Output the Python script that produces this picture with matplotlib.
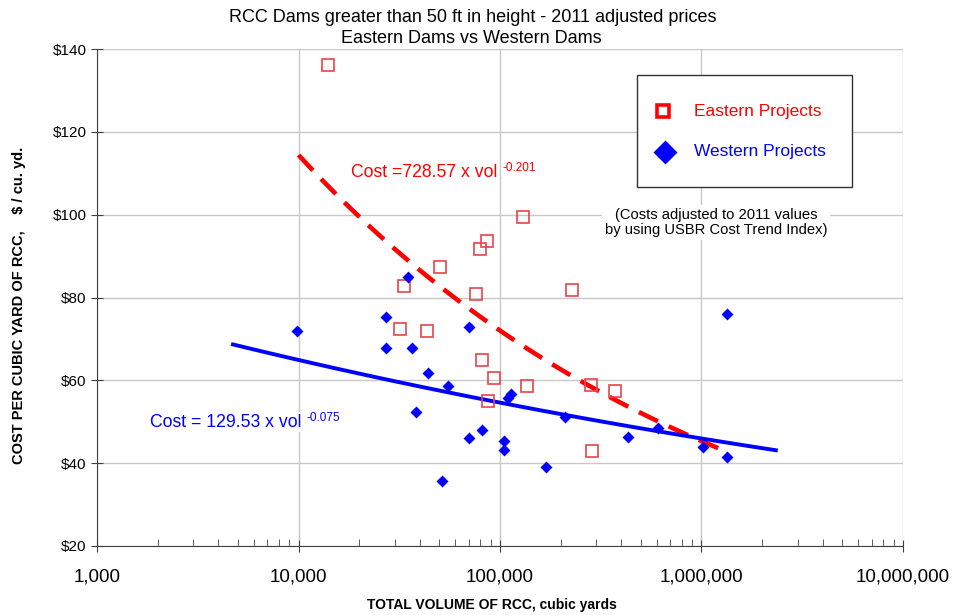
#!/usr/bin/env python3
"""RCC dam unit cost vs. volume, eastern vs western projects"""
import numpy as np
import matplotlib
matplotlib.use("Agg")
import matplotlib.pyplot as plt
from matplotlib.patches import Rectangle
from matplotlib.ticker import FixedLocator, LogLocator, NullFormatter

plt.rcParams['font.family'] = ['Liberation Sans', 'DejaVu Sans']

# eastern projects (volume cu. yd., cost $/cu. yd.)
east_vol = [14000, 130000, 86000, 79600, 50400, 33400, 76000, 228000, 31900,
            43400, 81400, 93400, 136000, 87100, 283000, 372000, 286000]
east_cost = [136.1, 99.4, 93.6, 91.7, 87.4, 82.8, 80.8, 81.8, 72.4,
             71.9, 64.9, 60.6, 58.6, 55.0, 58.9, 57.4, 42.9]

# western projects
west_vol = [9840, 34900, 27200, 27200, 36600, 70200, 43900, 55200, 38300, 113500,
            109600, 70200, 81400, 104700, 104700, 51500, 169000, 210000,
            1340000, 432000, 608000, 1017000, 1340000]
west_cost = [72.0, 84.9, 75.3, 67.8, 67.8, 72.9, 61.8, 58.6, 52.4, 56.7,
             55.7, 46.1, 48.0, 45.3, 43.2, 35.7, 39.1, 51.1,
             76.0, 46.3, 48.5, 43.9, 41.5]

# power-law fits shown on the chart
east_fit = (728.57, -0.201)
east_fit_range = (10000, 1330000)
west_fit = (129.53, -0.075)
west_fit_range = (4730, 2340000)

xticks = [1e3, 1e4, 1e5, 1e6, 1e7]
xtick_labels = ['1,000', '10,000', '100,000', '1,000,000', '10,000,000']
yticks = [20, 40, 60, 80, 100, 120, 140]

RED = '#ff0000'
BLUE = '#0000ff'

fig = plt.figure(figsize=(9.54, 6.15), dpi=100)
ax = fig.add_axes([97 / 954, 1 - 546 / 615, 806 / 954, 497 / 615])

# trend lines
xe = np.logspace(np.log10(east_fit_range[0]), np.log10(east_fit_range[1]), 100)
ax.plot(xe, east_fit[0] * xe ** east_fit[1], color=RED, lw=3.3,
        dashes=(4.6, 2.6), zorder=3)
xw = np.logspace(np.log10(west_fit_range[0]), np.log10(west_fit_range[1]), 100)
ax.plot(xw, west_fit[0] * xw ** west_fit[1], color=BLUE, lw=2.8, zorder=3)

# data points
ax.plot(east_vol, east_cost, 's', ms=9, mfc='none', mec='#e8434a', mew=1.2,
        zorder=4)
ax.plot(west_vol, west_cost, 'D', ms=6.5, color=BLUE, mec='none', zorder=4)

ax.set_xscale('log')
ax.set_xlim(1e3, 1e7)
ax.set_ylim(20, 140)
ax.xaxis.set_major_locator(FixedLocator(xticks))
ax.set_xticklabels(xtick_labels, fontsize=13.5)
ax.xaxis.set_minor_locator(LogLocator(base=10, subs=np.arange(2, 10)))
ax.xaxis.set_minor_formatter(NullFormatter())
ax.set_yticks(yticks)
ax.set_yticklabels(['$%d' % v for v in yticks], fontsize=11)

ax.grid(True, which='major', color='#c8c8c8', lw=1.0, zorder=0)
ax.set_axisbelow(True)
for s in ['top', 'right']:
    ax.spines[s].set_visible(False)
for s in ['left', 'bottom']:
    ax.spines[s].set_color('#404040')
ax.tick_params(axis='x', which='major', direction='inout', length=8, pad=12,
               color='#404040')
ax.tick_params(axis='x', which='minor', direction='in', length=5,
               color='#404040')
ax.tick_params(axis='y', direction='inout', length=8, color='#404040')

ax.set_xlabel('TOTAL VOLUME OF RCC, cubic yards', fontsize=10,
              fontweight='bold', labelpad=5)
ax.xaxis.set_label_coords(0.49, -0.105)
ax.set_ylabel('COST PER CUBIC YARD OF RCC,    $ / cu. yd.', fontsize=10.5,
              fontweight='bold', labelpad=20)
ax.yaxis.set_label_coords(-0.088, 0.485)

fig.text(0.496, 0.972, 'RCC Dams greater than 50 ft in height - 2011 adjusted prices',
         ha='center', va='center', fontsize=13)
fig.text(0.494, 0.938, 'Eastern Dams vs Western Dams', ha='center', va='center',
         fontsize=13)

# fit equations, with exponent as a small raised label
def equation(x, y, text, power, color):
    t = ax.text(x, y, text, color=color, fontsize=12.7, ha='left', va='center',
                zorder=5, bbox=dict(fc='white', ec='none', pad=1))
    ax.annotate(power, xy=(1, 1), xycoords=t, xytext=(4, 1),
                textcoords='offset points', color=color, fontsize=8.5,
                ha='left', va='top', zorder=5,
                bbox=dict(fc='white', ec='none', pad=1))

equation(18200, 110.3, 'Cost =728.57 x vol', '-0.201', RED)
equation(1830, 49.9, 'Cost = 129.53 x vol', '-0.075', BLUE)

ax.text(1.18e6, 98.1, '(Costs adjusted to 2011 values\nby using USBR Cost Trend Index)',
        fontsize=10.6, ha='center', va='center', linespacing=1.1, zorder=5,
        bbox=dict(fc='white', ec='none', pad=2))

# legend box drawn by hand
ax.add_patch(Rectangle((0.670, 0.722), 0.267, 0.226, transform=ax.transAxes,
                       fc='white', ec='#333333', lw=1.0, zorder=6))
ax.plot([0.702], [0.875], 's', ms=8.5, mfc='none', mec=RED, mew=2.6,
        transform=ax.transAxes, zorder=7)
ax.plot([0.705], [0.793], 'D', ms=12, color=BLUE, mec='none',
        transform=ax.transAxes, zorder=7)
ax.text(0.741, 0.875, 'Eastern Projects', color=RED, fontsize=12.5,
        ha='left', va='center', transform=ax.transAxes, zorder=7)
ax.text(0.741, 0.793, 'Western Projects', color=BLUE, fontsize=12.5,
        ha='left', va='center', transform=ax.transAxes, zorder=7)

fig.savefig('out.png', dpi=100)
